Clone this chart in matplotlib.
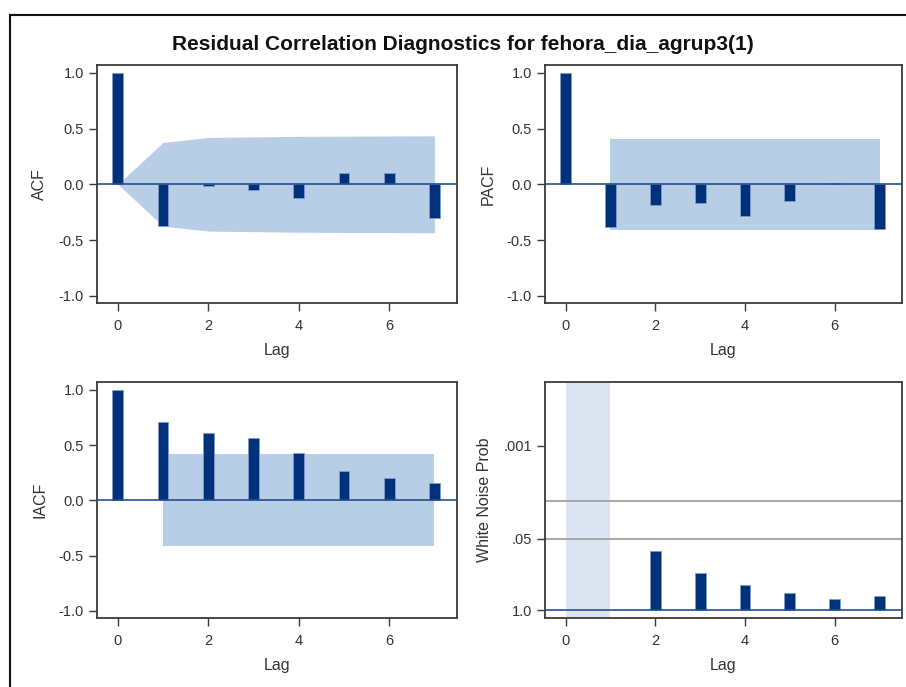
import numpy as np
import matplotlib.pyplot as plt
from matplotlib.patches import Rectangle

plt.rcParams['font.family'] = ['Liberation Sans', 'DejaVu Sans']

title = "Residual Correlation Diagnostics for fehora_dia_agrup3(1)"

lags = [0, 1, 2, 3, 4, 5, 6, 7]
acf = [1.0, -0.377, -0.015, -0.047, -0.12, 0.098, 0.098, -0.30]
acf_band = [0.0, 0.375, 0.42, 0.425, 0.43, 0.432, 0.433, 0.435]

pacf = [1.0, -0.386, -0.187, -0.172, -0.288, -0.148, 0.012, -0.40]
pacf_band_lags = [1, 7]
pacf_band = [0.41, 0.41]

iacf = [1.0, 0.71, 0.61, 0.56, 0.43, 0.264, 0.20, 0.16]
iacf_band_lags = [1, 7]
iacf_band = [0.415, 0.415]

wn_lags = [2, 3, 4, 5, 6, 7]
wn_prob = [0.083, 0.21, 0.34, 0.48, 0.61, 0.54]
wn_missing = [0, 1]          # lags with no test, shaded
wn_refs = [0.05, 0.01]       # reference lines
wn_ticks = [1.0, 0.05, 0.001]
wn_ticklabels = ["1.0", ".05", ".001"]

bar_c = '#00317a'
band_c = '#b8cde6'
zero_c = '#23508f'
frame_c = '#3a3a3a'
W, H = 906, 687

fig = plt.figure(figsize=(W / 100, H / 100), dpi=100)


def box(x0, y0, x1, y1):
    return [x0 / W, 1 - y1 / H, (x1 - x0) / W, (y1 - y0) / H]


def style(ax, ylabel):
    for s in ax.spines.values():
        s.set_color(frame_c)
        s.set_linewidth(1.3)
    ax.tick_params(length=5.5, width=1.0, color=frame_c, labelsize=10.5,
                   labelcolor='#333333', pad=4)
    ax.tick_params(axis='x', pad=6)
    ax.set_xlim(-0.46, 7.5)
    ax.set_xticks([0, 2, 4, 6])
    ax.set_xlabel("Lag", fontsize=11.5, color='#333333', labelpad=7)
    ax.set_ylabel(ylabel, fontsize=11.5, color='#333333', labelpad=8)


def corr_panel(ax, vals, ylabel):
    ax.bar(lags, vals, width=0.24, color=bar_c, edgecolor='#7f9cc7',
           linewidth=0.6, zorder=3)
    ax.axhline(0, color=zero_c, lw=1.2, zorder=4)
    ax.set_ylim(-1.065, 1.07)
    ax.set_yticks([-1.0, -0.5, 0.0, 0.5, 1.0])
    ax.set_yticklabels(["-1.0", "-0.5", "0.0", "0.5", "1.0"])
    style(ax, ylabel)


ax1 = fig.add_axes(box(97, 65, 457, 303))
ax1.fill_between(lags, [-b for b in acf_band], acf_band, color=band_c, lw=0, zorder=1)
corr_panel(ax1, acf, "ACF")

ax2 = fig.add_axes(box(545, 65, 902, 303))
ax2.fill_between(pacf_band_lags, [-b for b in pacf_band], pacf_band, color=band_c, lw=0, zorder=1)
corr_panel(ax2, pacf, "PACF")

ax3 = fig.add_axes(box(97, 382, 457, 618))
ax3.fill_between(iacf_band_lags, [-b for b in iacf_band], iacf_band, color=band_c, lw=0, zorder=1)
corr_panel(ax3, iacf, "IACF")

ax4 = fig.add_axes(box(545, 382, 902, 618))
ax4.axvspan(wn_missing[0], wn_missing[1], color='#dbe5f2', lw=0, zorder=1)
for p in wn_refs:
    ax4.axhline(-np.log10(p), color='#9a9a9a', lw=1.2, zorder=2)
ax4.bar(wn_lags, -np.log10(wn_prob), width=0.24, color=bar_c, edgecolor='#7f9cc7',
        linewidth=0.6, zorder=3)
ax4.axhline(0, color=zero_c, lw=1.2, zorder=4)
ax4.set_ylim(-0.14, 4.16)
ax4.set_yticks(-np.log10(wn_ticks))
ax4.set_yticklabels(wn_ticklabels)
style(ax4, "White Noise Prob")

fig.text(463 / W, 1 - 45 / H, title, ha='center', va='center',
         fontsize=15, fontweight='bold', color='#111111')

fig.patches.append(Rectangle((9.5 / W, -0.1), 2, 1.1 - 15 / H,
                             transform=fig.transFigure, fill=False,
                             edgecolor='#111111', lw=1.5))

fig.savefig("out.png", dpi=100)
